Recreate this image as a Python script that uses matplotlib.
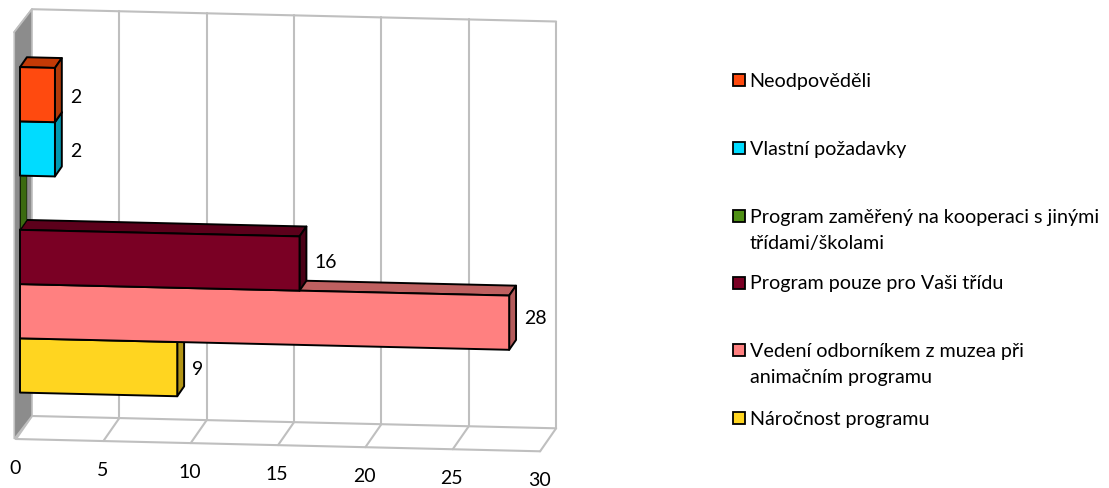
import matplotlib
matplotlib.use('Agg')
import matplotlib.pyplot as plt
from matplotlib.patches import Polygon

# bottom to top, the way the bars are stacked in the chart
labels = ['Náročnost programu',
          'Vedení odborníkem z muzea při\nanimačním programu',
          'Program pouze pro Vaši třídu',
          'Program zaměřený na kooperaci s jinými\ntřídami/školami',
          'Vlastní požadavky',
          'Neodpověděli']
values = [9, 28, 16, 0, 2, 2]
show_label = [True, True, True, False, True, True]
front_colors = ['#FFD520', '#FF8080', '#7A0024', '#4E8F14', '#00DCFF', '#FF4A0F']
top_colors = ['#B39515', '#BF6060', '#5C001B', '#3B6B10', '#0098B0', '#C43A06']
side_colors = ['#B39515', '#B35A5A', '#4A0016', '#3B6B10', '#0098B0', '#B03A0A']
ticks = [0, 5, 10, 15, 20, 25, 30]

plt.rcParams['font.family'] = ['Lato', 'DejaVu Sans']

W, H = 1109, 488
fig = plt.figure(figsize=(W / 100, H / 100), dpi=100)
ax = fig.add_axes([0, 0, 1, 1])
ax.set_xlim(0, W)
ax.set_ylim(H, 0)
ax.axis('off')


def proj(v, c, d):
    # v = value, c = height in category units (0-6), d = depth (0 front, 1 back)
    x = 16 + 17.47 * v + 16 * d
    y = 439 + 0.41 * v - 23 * d - 67.8 * c
    return x, y


grid = '#BFBFBF'


def line(p1, p2):
    ax.plot([p1[0], p2[0]], [p1[1], p2[1]], color=grid, lw=1.5, solid_capstyle='round', zorder=1)


# back wall and floor
for t in ticks:
    if t > 0:
        line(proj(t, 0, 1), proj(t, 6, 1))
    line(proj(t, 0, 0), proj(t, 0, 1))
line(proj(0, 0, 0), proj(30, 0, 0))
line(proj(0, 0, 1), proj(30, 0, 1))
line(proj(0, 6, 1), proj(30, 6, 1))

# left wall
wall = [proj(-0.1, 0, 0), proj(-0.1, 6, 0), proj(0, 6, 1), proj(0, 0, 1)]
ax.add_patch(Polygon(wall, closed=True, facecolor='#8C8C8C', edgecolor='#BFBFBF', lw=1.2, zorder=2))
line(proj(-0.1, 6, 0), proj(0, 6, 1))

# bars, each one covers the top of the one below
bar_h = 0.8
start = 0.6
d0, d1 = 0.25, 0.68
for i, v in enumerate(values):
    c0 = start + i * bar_h
    c1 = c0 + bar_h
    x1 = v
    z = 3 + i
    top = [proj(0, c1, d0), proj(0, c1, d1), proj(x1, c1, d1), proj(x1, c1, d0)]
    side = [proj(x1, c0, d0), proj(x1, c0, d1), proj(x1, c1, d1), proj(x1, c1, d0)]
    front = [proj(0, c0, d0), proj(0, c1, d0), proj(x1, c1, d0), proj(x1, c0, d0)]
    for pts, col in ((top, top_colors[i]), (side, side_colors[i]), (front, front_colors[i])):
        ax.add_patch(Polygon(pts, closed=True, facecolor=col, edgecolor='black',
                             lw=1.4 if v else 0.4, joinstyle='round', zorder=z))
    if show_label[i]:
        lx, ly = proj(x1, (c0 + c1) / 2, d0)
        ly = ly - 0.25 * v
        ax.text(lx + 15, ly + 3, str(v), fontsize=14, color='black', ha='left', va='center', zorder=20)

# axis numbers
for t in ticks:
    x, y = proj(t, 0, 0)
    ax.text(x - 1, y + 29, str(t), fontsize=14, color='black', ha='center', va='center')

# legend, top entry first
leg_y = [418, 350, 283, 216, 148, 80]
for i, name in enumerate(labels):
    ax.add_patch(Polygon([(733, leg_y[i] - 6), (745, leg_y[i] - 6), (745, leg_y[i] + 6), (733, leg_y[i] + 6)],
                         closed=True, facecolor=front_colors[i], edgecolor='black', lw=1.3))
    for j, part in enumerate(name.split('\n')):
        ax.text(749.5, leg_y[i] + 1 + j * 26, part, fontsize=14.2, color='black', ha='left', va='center')

fig.savefig('out.png', dpi=100)
